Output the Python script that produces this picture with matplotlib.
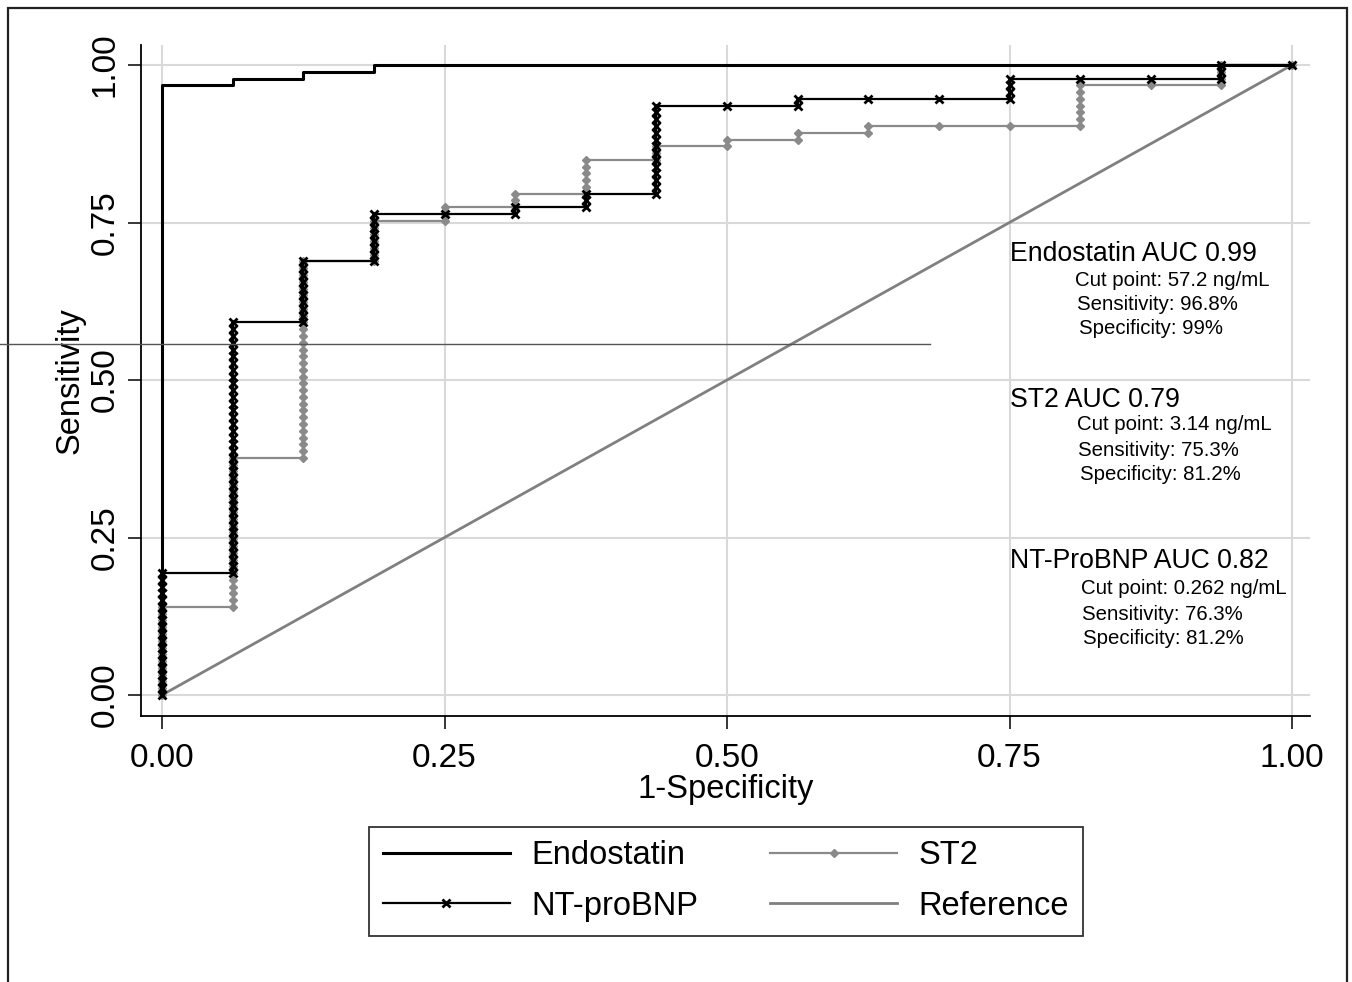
import matplotlib
matplotlib.use("Agg")
import matplotlib.pyplot as plt
from matplotlib.lines import Line2D
from matplotlib.patches import Rectangle

plt.rcParams["font.family"] = ["Liberation Sans", "DejaVu Sans"]

W, H = 1352, 982

# ROC data: 16 controls, 93 cases. For each number of false positives
# (0..16) the number of true positives reached at that level.
N_NEG = 16
N_POS = 93
ENDOSTATIN_TP = [90, 91, 92, 93, 93, 93, 93, 93, 93, 93, 93, 93, 93, 93, 93, 93, 93]
NTPROBNP_TP = [18, 55, 64, 71, 71, 72, 74, 87, 87, 88, 88, 88, 91, 91, 91, 93, 93]
ST2_TP = [13, 35, 64, 70, 72, 74, 79, 81, 82, 83, 84, 84, 84, 90, 90, 93, 93]

TICKS = [0.0, 0.25, 0.5, 0.75, 1.0]
TICK_LABELS = ["0.00", "0.25", "0.50", "0.75", "1.00"]

ANNOTATIONS = [
    ("Endostatin AUC 0.99", ["Cut point: 57.2 ng/mL", "Sensitivity: 96.8%", "Specificity: 99%"]),
    ("ST2 AUC 0.79", ["Cut point: 3.14 ng/mL", "Sensitivity: 75.3%", "Specificity: 81.2%"]),
    ("NT-ProBNP AUC 0.82", ["Cut point: 0.262 ng/mL", "Sensitivity: 76.3%", "Specificity: 81.2%"]),
]


def roc_points(tp_levels):
    # one point per case at each false-positive level
    xs, ys = [], []
    prev = 0
    for fp, tp in enumerate(tp_levels):
        for t in range(prev, tp + 1):
            xs.append(fp / N_NEG)
            ys.append(t / N_POS)
        prev = tp
    return xs, ys


def fx(px):
    return px / W


def fy(py):
    return 1 - py / H


fig = plt.figure(figsize=(W / 100, H / 100), dpi=100)
ax = fig.add_axes([fx(141), fy(716), fx(1310) - fx(141), fy(45) - fy(716)])

ax.plot([0, 1], [0, 1], color="#808080", lw=2.0, label="Reference", zorder=2)
sx, sy = roc_points(ST2_TP)
ax.plot(sx, sy, color="#8a8a8a", lw=1.6, marker="D", ms=4.2, mec="#8a8a8a",
        label="ST2", zorder=3)
nx, ny = roc_points(NTPROBNP_TP)
ax.plot(nx, ny, color="black", lw=1.6, marker="x", ms=6, mew=2.0,
        label="NT-proBNP", zorder=4)
ex, ey = roc_points(ENDOSTATIN_TP)
ax.plot(ex, ey, color="black", lw=2.2, label="Endostatin", zorder=5)

ax.set_xlim((141 - 162) / 1130, (1310 - 162) / 1130)
ax.set_ylim((695 - 716) / 630, (695 - 45) / 630)
ax.set_xticks(TICKS)
ax.set_xticklabels(TICK_LABELS)
ax.set_yticks(TICKS)
ax.set_yticklabels(TICK_LABELS, rotation=90, va="center")
ax.grid(True, color="#d9d9d9", lw=1.5)
ax.set_axisbelow(True)
for side in ("top", "right"):
    ax.spines[side].set_visible(False)
for side in ("left", "bottom"):
    ax.spines[side].set_linewidth(1.3)
ax.tick_params(axis="both", length=9.5, width=1.1, labelsize=24, direction="out")
ax.tick_params(axis="x", pad=10)
ax.tick_params(axis="y", pad=5)
ax.set_xlabel("1-Specificity", fontsize=23.5, labelpad=0)
ax.set_ylabel("Sensitivity", fontsize=23.5, labelpad=3)

# AUC annotations
title_y = [254, 400, 561]
sub_y = [[281, 304, 328], [424, 450, 474], [589, 614, 638]]
sub_x = [[1075, 1077, 1079], [1077, 1078, 1080], [1081, 1082, 1083]]
for i, (head, lines) in enumerate(ANNOTATIONS):
    fig.text(fx(1010), fy(title_y[i]), head, fontsize=19.2, va="center", ha="left")
    for j, line in enumerate(lines):
        fig.text(fx(sub_x[i][j]), fy(sub_y[i][j]), line, fontsize=14.7,
                 va="center", ha="left")

handles, labels = ax.get_legend_handles_labels()
order = [3, 2, 1, 0]
leg = fig.legend([handles[k] for k in order], [labels[k] for k in order],
                 loc="center", bbox_to_anchor=(fx(726), fy(881)), ncol=2,
                 fontsize=23.5, frameon=True, fancybox=False, edgecolor="black",
                 handlelength=3.9, handletextpad=0.65, columnspacing=2.2,
                 labelspacing=0.6, borderpad=0.42, numpoints=1)
leg.get_frame().set_linewidth(1.3)

# outer frame and stray rule
fig.add_artist(Rectangle((fx(8), fy(990)), fx(1347) - fx(8), fy(8) - fy(990),
                         transform=fig.transFigure, fill=False, ec="#222222", lw=1.6))
fig.add_artist(Line2D([0, fx(930)], [fy(344), fy(344)], transform=fig.transFigure,
                      color="#555555", lw=1.0))

fig.savefig("out.png", dpi=100)
